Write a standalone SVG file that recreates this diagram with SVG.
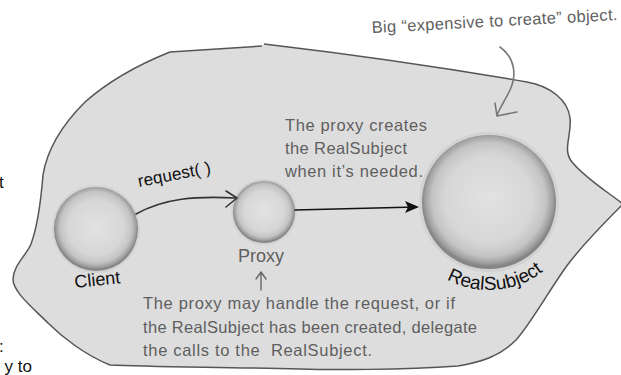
<svg xmlns="http://www.w3.org/2000/svg" width="621" height="375" viewBox="0 0 621 375">
<defs>
<radialGradient id="sph" cx="50%" cy="48%" r="50%">
<stop offset="0" stop-color="#e2e2e2"/>
<stop offset="0.65" stop-color="#d7d7d7"/>
<stop offset="0.85" stop-color="#c4c4c4"/>
<stop offset="0.95" stop-color="#a0a0a0"/>
<stop offset="1" stop-color="#858585"/>
</radialGradient>
<style>
.lbl{font-family:"Liberation Sans",Arial,sans-serif;fill:#111;}
.note{font-family:"Liberation Sans",Arial,sans-serif;fill:#5f5f5f;font-size:16.5px;}
.halo{fill:#cbcbcb;opacity:0.6;}
.ball{fill:url(#sph);}
.conn{fill:none;stroke-linecap:round;stroke-linejoin:round;}
</style>
</defs>
<rect width="621" height="375" fill="#ffffff"/>
<g id="blob">
<path d="M170,52 L262,46 L264,44 Q400,60 527,82 C550,86 568,100 570,118 C572,135 562,150 572,162 C585,178 605,190 623,204 C605,222 582,245 566,267 C548,292 532,322 516,340 C500,356 482,362 458,366 C400,370 330,370 300,369 C220,367 150,367 110,365 C85,355 62,337 48,323 C32,307 13,292 13,279 C14,264 26,256 31,244 C38,225 41,200 43,175 C47,150 62,125 85,102 C110,80 140,64 170,52 Z" fill="#dddddd"/>
<path d="M264,44 Q400,60 527,82 C550,86 568,100 570,118 C572,135 562,150 572,162 C585,178 605,190 623,204 C605,222 582,245 566,267 C548,292 532,322 516,340 C500,356 482,362 458,366 C400,370 330,370 300,369 C220,367 150,367 110,365 C85,355 62,337 48,323 C32,307 13,292 13,279 C14,264 26,256 31,244 C38,225 41,200 43,175 C47,150 62,125 85,102 C110,80 140,64 170,52 L262,46" fill="none" stroke="#555" stroke-width="1.5"/>
</g>
<g id="node-client">
<circle class="halo" cx="96" cy="229" r="44"/>
<circle class="ball" cx="96" cy="229" r="42"/>
<text class="lbl" x="75" y="288" font-size="18" transform="rotate(-6 75 288)">Client</text>
</g>
<g id="node-proxy">
<circle class="halo" cx="264" cy="212" r="33"/>
<circle class="ball" cx="264" cy="212" r="31"/>
<text class="note" x="238" y="262" style="font-size:18px">Proxy</text>
</g>
<g id="node-realsubject">
<circle class="halo" cx="489" cy="202" r="70"/>
<circle class="ball" cx="489" cy="202" r="67"/>
<path id="arcRS" d="M412.8,246 A88,88 0 0 0 565.2,246" fill="none"/>
<text class="lbl" font-size="19"><textPath href="#arcRS" startOffset="48">RealSubject</textPath></text>
</g>
<g id="connectors">
<path class="conn" d="M136,214 C165,198 195,196 236,198" stroke="#333" stroke-width="1.6"/>
<path class="conn" d="M226,191 L237,198 L226,207" stroke="#333" stroke-width="1.6"/>
<path class="conn" d="M295,210 L416,207" stroke="#111" stroke-width="1.6"/>
<polygon points="419,207 405,201 408,207 405,213" fill="#111"/>
<path class="conn" d="M500,47 C515,58 517,75 510,90 C505,100 500,108 497,115" stroke="#777" stroke-width="1.6"/>
<path class="conn" d="M495,103 L497,116 L517,112" stroke="#777" stroke-width="1.6"/>
<path class="conn" d="M261,290 L261,273 M256,279 L261,272 L266,279" stroke="#666" stroke-width="1.4"/>
</g>
<g id="labels">
<text class="lbl" x="139" y="187" font-size="17" textLength="74" lengthAdjust="spacing" transform="rotate(-11 139 187)">request( )</text>
<text class="note" x="372" y="33" textLength="246" lengthAdjust="spacing" transform="rotate(-3 372 33)">Big “expensive to create” object.</text>
<text class="note" x="285" y="131" textLength="142" lengthAdjust="spacing">The proxy creates</text>
<text class="note" x="285" y="154" textLength="122" lengthAdjust="spacing">the RealSubject</text>
<text class="note" x="285" y="177" textLength="138" lengthAdjust="spacing">when it’s needed.</text>
<text class="note" x="143" y="309" textLength="312" lengthAdjust="spacing">The proxy may handle the request, or if</text>
<text class="note" x="143" y="333" textLength="334" lengthAdjust="spacing">the RealSubject has been created, delegate</text>
<text class="note" x="143" y="356" textLength="229" lengthAdjust="spacing" xml:space="preserve">the calls to the  RealSubject.</text>
<text class="lbl" x="-1" y="188" font-size="17">t</text>
<text class="lbl" x="-1" y="352" font-size="17">:</text>
<text class="lbl" x="32" y="372" font-size="17" text-anchor="end">y to</text>
</g>
</svg>
